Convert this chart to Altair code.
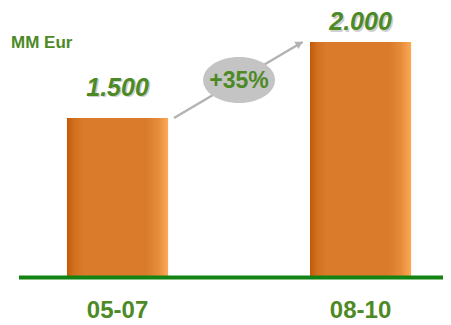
import altair as alt
import pandas as pd

# ---- data ----
periods = ["05-07", "08-10"]
values = [1500, 2000]
value_labels = ["1.500", "2.000"]
unit_label = "MM Eur"
growth_label = "+35%"
baseline_value = 450

GREEN_TEXT = "#4d8a26"
GREEN_LINE = "#138313"
GREY_ARROW = "#b3b3b3"
GREY_BUBBLE = "#c4c4c4"
FONT = "Liberation Sans"

W, H = 435, 316

df = pd.DataFrame({"period": periods, "value": values, "label": value_labels})

xscale = alt.Scale(domain=periods, paddingInner=0.584, paddingOuter=0.187, align=0.649)
yscale = alt.Scale(domain=[144.7, 2223.6], zero=False, nice=False)

X = alt.X("period:N", scale=xscale, axis=None)
Y = alt.Y("value:Q", scale=yscale, axis=None)

gradient = alt.LinearGradient(
    gradient="linear",
    stops=[
        alt.GradientStop(color="#c05a0a", offset=0.0),
        alt.GradientStop(color="#d2701e", offset=0.07),
        alt.GradientStop(color="#d97b2a", offset=0.16),
        alt.GradientStop(color="#d97b2a", offset=0.78),
        alt.GradientStop(color="#e58c3a", offset=0.9),
        alt.GradientStop(color="#fcaa55", offset=1.0),
    ],
    x1=0, x2=1, y1=0, y2=0,
)

base = alt.Chart(df)

bars = base.mark_bar(color=gradient).encode(x=X, y=Y, y2=alt.datum(baseline_value))

baseline = alt.Chart(pd.DataFrame({"b": [baseline_value]})).mark_rule(
    color=GREEN_LINE, strokeWidth=4
).encode(y=alt.Y("b:Q", scale=yscale, axis=None), x=alt.value(11), x2=alt.value(W))


def value_label(i, dy):
    sel = base.transform_filter(alt.datum.period == periods[i])
    shadow = sel.mark_text(
        font=FONT, fontSize=25, fontWeight="bold", fontStyle="italic",
        color="#bdbdbd", opacity=0.7, baseline="middle", dx=1.5, dy=dy + 1.5,
    ).encode(x=X, y=Y, text="label:N")
    txt = sel.mark_text(
        font=FONT, fontSize=25, fontWeight="bold", fontStyle="italic",
        color=GREEN_TEXT, baseline="middle", dy=dy,
    ).encode(x=X, y=Y, text="label:N")
    return shadow + txt


labels = value_label(0, -30) + value_label(1, -19.5)

cat_labels = base.mark_text(
    font=FONT, fontSize=24, fontWeight="bold", color=GREEN_TEXT, baseline="middle", dy=33
).encode(x=X, y=alt.datum(baseline_value), text="period:N")

arrow_df = pd.DataFrame({
    "from": [periods[0]], "to": [periods[1]],
    "v0": [values[0]], "v1": [values[1]],
})
arrow = alt.Chart(arrow_df).mark_rule(
    color=GREY_ARROW, strokeWidth=2.5, xOffset=56.5, x2Offset=-58
).encode(
    x=alt.X("from:N", scale=xscale, axis=None),
    x2="to:N",
    y=alt.Y("v0:Q", scale=yscale, axis=None),
    y2="v1:Q",
)
head = alt.Chart(arrow_df).mark_point(
    shape="triangle-right", angle=330, filled=True, size=70, color=GREY_ARROW,
    opacity=1, xOffset=-61, yOffset=1.5,
).encode(x=alt.X("to:N", scale=xscale, axis=None), y=alt.Y("v1:Q", scale=yscale, axis=None))

bubble_df = pd.DataFrame({
    "period": [periods[0]],
    "mid": [(values[0] + values[1]) / 2],
    "label": [growth_label],
})
ellipse_path = "M -1 0 A 1 0.64 0 1 1 1 0 A 1 0.64 0 1 1 -1 0 Z"
bubble = alt.Chart(bubble_df).mark_point(
    shape=ellipse_path, size=72 * 72, filled=True, color=GREY_BUBBLE, opacity=1,
    strokeWidth=0, xOffset=121.5,
).encode(x=X, y=alt.Y("mid:Q", scale=yscale, axis=None))
bubble_text = alt.Chart(bubble_df).mark_text(
    font=FONT, fontSize=23, fontWeight="bold", color=GREEN_TEXT, baseline="middle",
    xOffset=121.5, dy=1,
).encode(x=X, y=alt.Y("mid:Q", scale=yscale, axis=None), text="label:N")

unit = alt.Chart(pd.DataFrame({"t": [unit_label]})).mark_text(
    font=FONT, fontSize=17, fontWeight="bold", color=GREEN_TEXT, align="left", baseline="middle"
).encode(x=alt.value(3), y=alt.value(35), text="t:N")

chart = alt.layer(
    bars, baseline, arrow, head, bubble, bubble_text, labels, cat_labels, unit
).properties(width=W, height=H, padding=0, autosize="none").configure_view(stroke=None)

chart.save("out.html", embed_options={"renderer": "svg", "actions": False})
